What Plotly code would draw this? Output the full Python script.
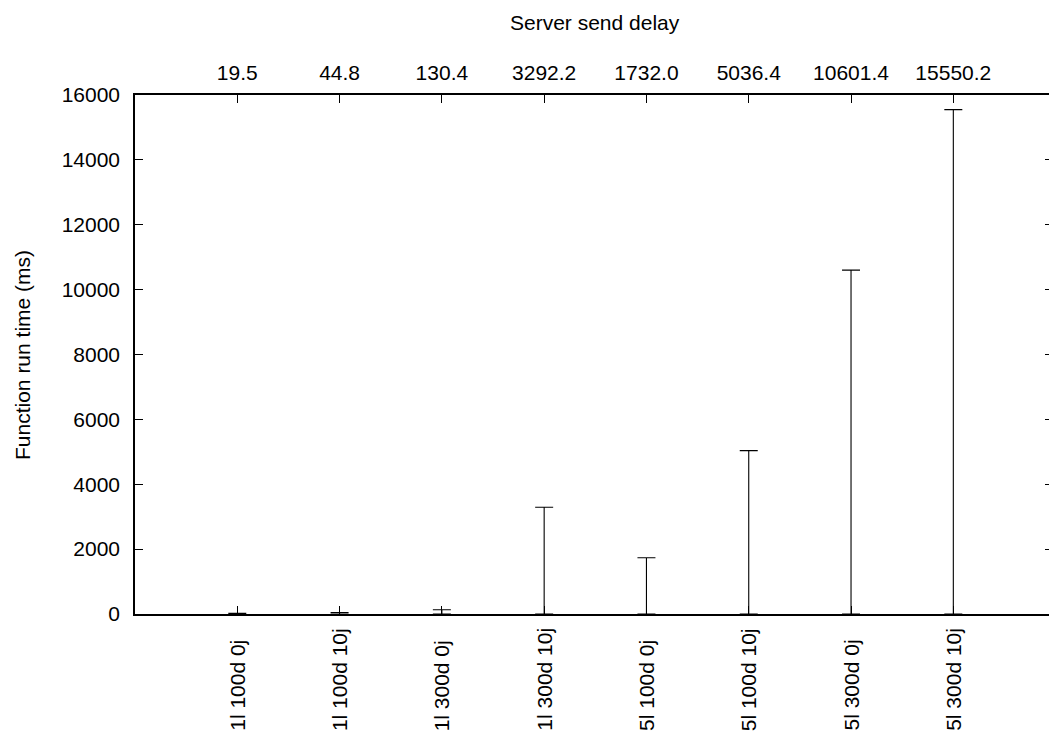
import plotly.graph_objects as go

# Test configurations and their measured server send delay (ms)
categories = ["1l 100d 0j", "1l 100d 10j", "1l 300d 0j", "1l 300d 10j",
              "5l 100d 0j", "5l 100d 10j", "5l 300d 0j", "5l 300d 10j"]
delays = [19.5, 44.8, 130.4, 3292.2, 1732.0, 5036.4, 10601.4, 15550.2]
y_ticks = [0, 2000, 4000, 6000, 8000, 10000, 12000, 14000, 16000]

positions = list(range(1, len(categories) + 1))
delay_labels = [f"{v:.1f}" for v in delays]

W, H = 1049, 738
L, T, B, R = 135, 95, 124, 0
FONT = "Liberation Sans, Arial, Helvetica, sans-serif"
FS = 21
plot_h = H - T - B

def paper_y(px):
    return (H - B - px) / plot_h

fig = go.Figure()

# each delay is drawn as an error bar running from 0 up to its value
fig.add_trace(go.Scatter(
    x=positions, y=delays, mode="markers",
    marker=dict(size=1, color="rgba(0,0,0,0)"),
    error_y=dict(type="data", symmetric=False,
                 array=[0] * len(delays), arrayminus=delays,
                 width=9, thickness=1.1, color="black"),
    showlegend=False, hoverinfo="skip", cliponaxis=False,
))
# invisible trace so the mirrored top/right axes are drawn
fig.add_trace(go.Scatter(
    x=positions, y=delays, mode="markers", xaxis="x2", yaxis="y2",
    marker=dict(size=1, color="rgba(0,0,0,0)"),
    showlegend=False, hoverinfo="skip",
))

x_range = [0, (W - L) / 102.29]

axis_common = dict(showgrid=False, zeroline=False, tickcolor="black",
                   tickwidth=1.2, ticks="inside", fixedrange=True)

fig.update_layout(
    width=W, height=H,
    margin=dict(l=L, r=R, t=T, b=B, pad=0),
    paper_bgcolor="white", plot_bgcolor="white",
    font=dict(family=FONT, size=FS, color="black"),
    xaxis=dict(range=x_range, tickvals=positions, showticklabels=False,
               ticklen=8, showline=True, linecolor="black", linewidth=1.5,
               **axis_common),
    xaxis2=dict(range=x_range, overlaying="x", side="top", anchor="y",
                tickvals=positions, ticktext=delay_labels,
                ticklen=8, showline=True, linecolor="black", linewidth=1.5,
                ticklabelstandoff=5, tickfont=dict(size=FS),
                **axis_common),
    yaxis=dict(range=[0, 16000], tickvals=y_ticks,
               ticktext=[str(v) for v in y_ticks],
               ticklen=8, showline=True, linecolor="black", linewidth=1.5,
               ticklabelstandoff=9, tickfont=dict(size=FS),
               **axis_common),
    yaxis2=dict(range=[0, 16000], overlaying="y", side="right", anchor="x",
                tickvals=y_ticks, showticklabels=False, ticklen=4,
                showline=False, **axis_common),
)

annotations = []
# rotated configuration names under each bar
for p, name in zip(positions, categories):
    annotations.append(dict(
        x=p, xref="x", y=paper_y(733), yref="paper",
        text=name, textangle=-90, showarrow=False,
        xanchor="center", yanchor="bottom", font=dict(size=FS),
    ))
# top axis title
annotations.append(dict(
    x=4.5, xref="x", y=paper_y(22), yref="paper",
    text="Server send delay", showarrow=False,
    xanchor="center", yanchor="middle", font=dict(size=FS),
))
# left axis title
annotations.append(dict(
    x=(22 - L) / (W - L - R), xref="paper", y=paper_y(355), yref="paper",
    text="Function run time (ms)", textangle=-90, showarrow=False,
    xanchor="center", yanchor="middle", font=dict(size=FS),
))
fig.update_layout(annotations=annotations)

fig.write_html("out.html")
